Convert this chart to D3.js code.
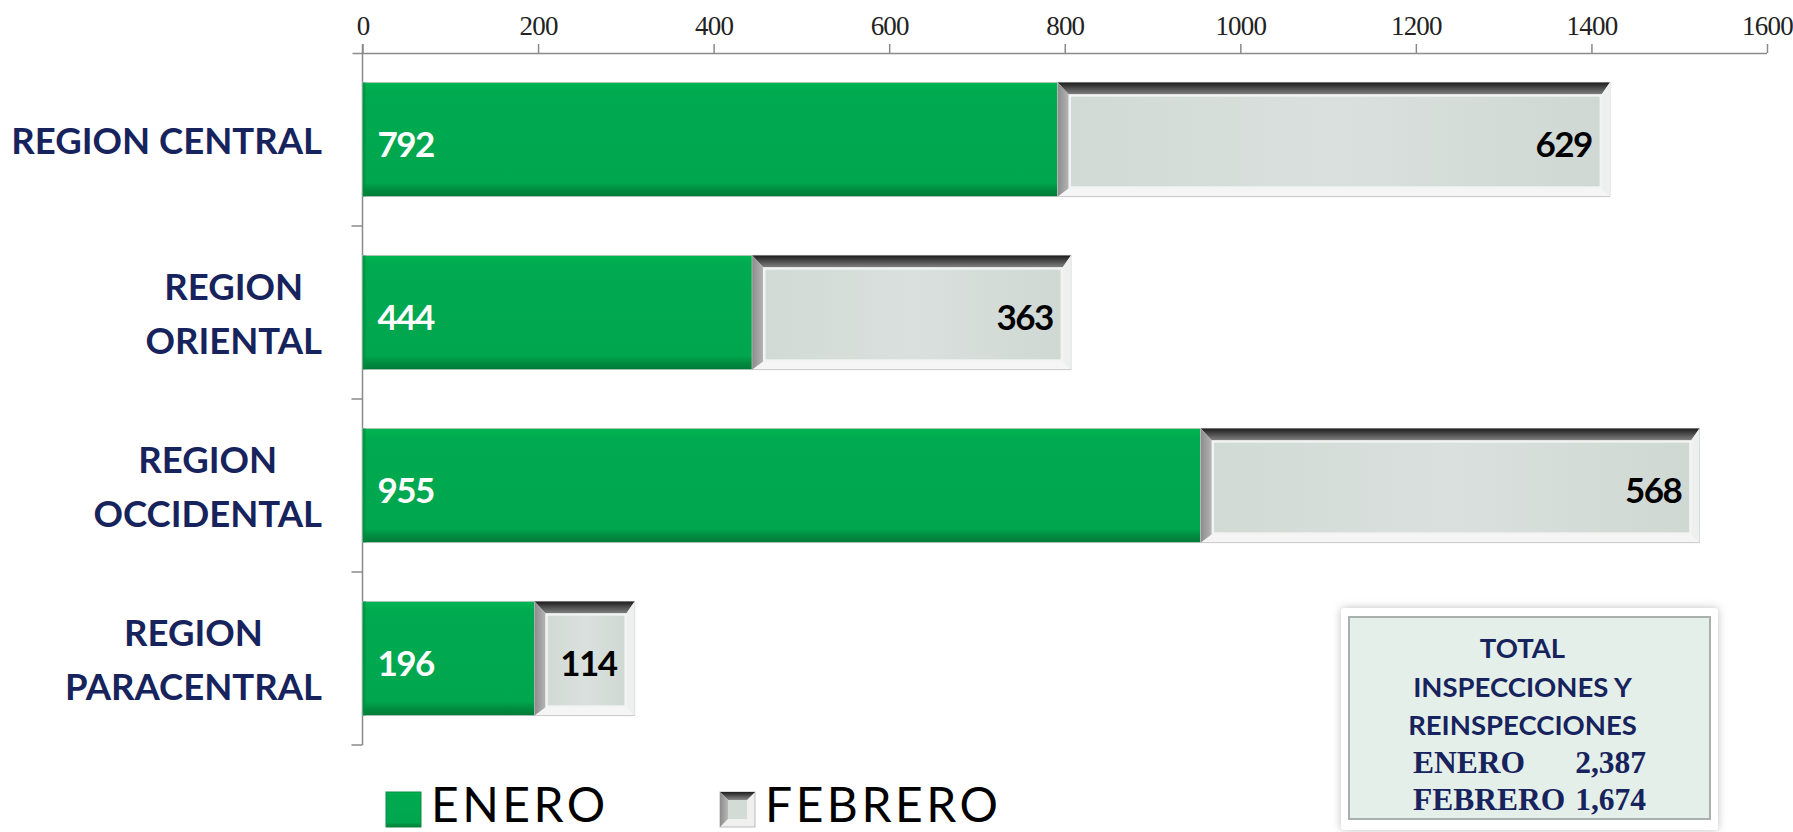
<!DOCTYPE html>
<html>
<head>
<meta charset="utf-8">
<script src="https://cdn.jsdelivr.net/npm/d3@7"></script>
<style>
  html, body { margin: 0; padding: 0; background: #fff; }
  svg { display: block; }
</style>
</head>
<body>
<svg id="chart" width="1793" height="832"></svg>
<script>
// Inspecciones por región – enero / febrero
const regions = ["REGION CENTRAL", "REGION\nORIENTAL", "REGION\nOCCIDENTAL", "REGION\nPARACENTRAL"];
const enero = [792, 444, 955, 196];
const febrero = [629, 363, 568, 114];
const xTicks = [0, 200, 400, 600, 800, 1000, 1200, 1400, 1600];
const seriesNames = ["ENERO", "FEBRERO"];
const totalLines = ["TOTAL", "INSPECCIONES Y", "REINSPECCIONES"];
const totals = [["ENERO", "2,387"], ["FEBRERO", "1,674"]];

const NAVY = "#17235c";
const SANS = "Lato, 'Open Sans', sans-serif";
const SERIF = "'Liberation Serif', 'Times New Roman', serif";
const svg = d3.select("#chart");

const margin = { top: 53, left: 362.5, right: 26, bottom: 87 };
const W = 1793, H = 832;

const x = d3.scaleLinear().domain([0, 1600]).range([margin.left, W - margin.right]);
const y = d3.scaleBand()
  .domain(regions)
  .range([margin.top, H - margin.bottom])
  .paddingInner(0.34)
  .paddingOuter(0.17);

// ---------------------------
// gradients / filters
// ---------------------------
const defs = svg.append("defs");

const gGreen = defs.append("linearGradient").attr("id", "green").attr("x1", 0).attr("y1", 0).attr("x2", 0).attr("y2", 1);
gGreen.append("stop").attr("offset", "0%").attr("stop-color", "#00b652");
gGreen.append("stop").attr("offset", "8%").attr("stop-color", "#00aa4f");
gGreen.append("stop").attr("offset", "88%").attr("stop-color", "#00a64e");
gGreen.append("stop").attr("offset", "94%").attr("stop-color", "#008c40");
gGreen.append("stop").attr("offset", "100%").attr("stop-color", "#007a37");

const gTop = defs.append("linearGradient").attr("id", "bevelTop").attr("x1", 0).attr("y1", 0).attr("x2", 0).attr("y2", 1);
gTop.append("stop").attr("offset", "0%").attr("stop-color", "#1c1c1c");
gTop.append("stop").attr("offset", "100%").attr("stop-color", "#8a8a8a");

const gLeft = defs.append("linearGradient").attr("id", "bevelLeft").attr("x1", 0).attr("y1", 0).attr("x2", 1).attr("y2", 0);
gLeft.append("stop").attr("offset", "0%").attr("stop-color", "#8c8c8c");
gLeft.append("stop").attr("offset", "100%").attr("stop-color", "#b8b8b8");

const gInner = defs.append("linearGradient").attr("id", "greyInner").attr("x1", 0).attr("y1", 0).attr("x2", 1).attr("y2", 0);
gInner.append("stop").attr("offset", "0%").attr("stop-color", "#d2dad6");
gInner.append("stop").attr("offset", "50%").attr("stop-color", "#d9e0dd");
gInner.append("stop").attr("offset", "100%").attr("stop-color", "#d0d8d4");

const shadow = defs.append("filter").attr("id", "shadow").attr("x", "-10%").attr("y", "-10%").attr("width", "120%").attr("height", "120%");
shadow.append("feDropShadow").attr("dx", 0).attr("dy", 0).attr("stdDeviation", 4).attr("flood-color", "#000").attr("flood-opacity", 0.25);

// ---------------------------
// axes
// ---------------------------
const xAxis = svg.append("g")
  .attr("transform", `translate(0,${margin.top})`)
  .call(d3.axisTop(x).tickValues(xTicks).tickSize(9).tickPadding(9).tickFormat(d3.format("d")));
xAxis.select(".domain").attr("stroke", "#8a8a8a").attr("stroke-width", 1.5)
  .attr("d", `M${margin.left - 10},0.5H${x(1600)}`);
xAxis.selectAll(".tick line").attr("stroke", "#8a8a8a").attr("stroke-width", 1.5);
xAxis.selectAll(".tick text")
  .attr("fill", "#222")
  .style("font-family", SERIF)
  .style("font-size", "27px")
  .style("letter-spacing", "-0.8px");

// y axis line with ticks at band boundaries
const yAxis = svg.append("g");
const yTop = margin.top, yBot = H - margin.bottom;
yAxis.append("line")
  .attr("x1", x(0)).attr("x2", x(0))
  .attr("y1", yTop - 9).attr("y2", yBot)
  .attr("stroke", "#8a8a8a").attr("stroke-width", 1.5);
const bounds = regions.map((r) => y(r) - y.step() * y.paddingInner() / 2).concat([yBot]);
yAxis.selectAll("line.yt")
  .data(bounds.slice(1))
  .join("line")
  .attr("class", "yt")
  .attr("x1", x(0) - 11).attr("x2", x(0))
  .attr("y1", (d) => d).attr("y2", (d) => d)
  .attr("stroke", "#8a8a8a").attr("stroke-width", 1.5);

// ---------------------------
// bars
// ---------------------------
const bars = svg.append("g");
const bh = y.bandwidth();

regions.forEach((r, i) => {
  const y0 = y(r);
  const g = bars.append("g");

  // Enero – green
  const gx0 = x(0), gx1 = x(enero[i]);
  g.append("rect")
    .attr("x", gx0).attr("y", y0)
    .attr("width", gx1 - gx0).attr("height", bh)
    .attr("fill", "url(#green)")
    .attr("stroke", "#b5c4bb").attr("stroke-width", 0.8);
  g.append("rect")
    .attr("x", gx0).attr("y", y0)
    .attr("width", 3).attr("height", bh)
    .attr("fill", "#008a3f").attr("opacity", 0.6);

  // Febrero – beveled grey
  const fx0 = x(enero[i]), fx1 = x(enero[i] + febrero[i]);
  const y1 = y0 + bh;
  const bT = 13, bL = 12, bR = 9, bB = 9;
  g.append("rect")
    .attr("x", fx0).attr("y", y0)
    .attr("width", fx1 - fx0).attr("height", bh)
    .attr("fill", "#f4f5f4").attr("stroke", "#c8c8c8").attr("stroke-width", 1);
  g.append("polygon")
    .attr("points", [[fx0, y0], [fx1, y0], [fx1 - bR, y0 + bT], [fx0 + bL, y0 + bT]].join(" "))
    .attr("fill", "url(#bevelTop)");
  g.append("polygon")
    .attr("points", [[fx0, y0], [fx0 + bL, y0 + bT], [fx0 + bL, y1 - bB], [fx0, y1]].join(" "))
    .attr("fill", "url(#bevelLeft)");
  g.append("polygon")
    .attr("points", [[fx1, y0], [fx1, y1], [fx1 - bR, y1 - bB], [fx1 - bR, y0 + bT]].join(" "))
    .attr("fill", "#eef0ef");
  g.append("rect")
    .attr("x", fx0 + bL).attr("y", y0 + bT)
    .attr("width", fx1 - fx0 - bL - bR).attr("height", bh - bT - bB)
    .attr("fill", "url(#greyInner)")
    .attr("stroke", "#f2f4f3").attr("stroke-width", 2.5);

  // value labels
  g.append("text")
    .attr("x", gx0 + 15).attr("y", y0 + bh / 2 + 3)
    .attr("dominant-baseline", "central")
    .attr("fill", "#fff")
    .style("font-family", SANS)
    .style("font-weight", 700)
    .style("font-size", "35px")
    .style("letter-spacing", "-1.5px")
    .text(enero[i]);
  g.append("text")
    .attr("x", fx1 - 18).attr("y", y0 + bh / 2 + 3)
    .attr("text-anchor", "end")
    .attr("dominant-baseline", "central")
    .attr("fill", "#000")
    .style("font-family", SANS)
    .style("font-weight", 700)
    .style("font-size", "35px")
    .style("letter-spacing", "-1.5px")
    .text(febrero[i]);
});

// ---------------------------
// category labels (centered lines, right-aligned block)
// ---------------------------
const labelRight = 322;
const lineGap = 54;
const catG = svg.append("g");
regions.forEach((r) => {
  const lines = r.split("\n");
  const cy = y(r) + bh / 2;
  const t = catG.append("g");
  const texts = lines.map((ln, j) =>
    t.append("text")
      .attr("y", cy + (j - (lines.length - 1) / 2) * lineGap)
      .attr("dominant-baseline", "central")
      .attr("text-anchor", "middle")
      .attr("fill", NAVY)
      .style("font-family", SANS)
      .style("font-weight", 700)
      .style("font-size", "36.5px")
      .text(ln)
  );
  const maxW = d3.max(texts, (s) => s.node().getComputedTextLength());
  texts.forEach((s) => s.attr("x", labelRight - maxW / 2));
});

// ---------------------------
// legend
// ---------------------------
const legend = svg.append("g");
const legendX = [386, 720];
seriesNames.forEach((name, i) => {
  const lx = legendX[i], ly = 792, s = 35;
  if (i === 0) {
    legend.append("rect").attr("x", lx).attr("y", ly).attr("width", s).attr("height", s)
      .attr("fill", "url(#green)").attr("stroke", "#0a8a40").attr("stroke-width", 1);
  } else {
    legend.append("rect").attr("x", lx).attr("y", ly).attr("width", s).attr("height", s)
      .attr("fill", "#f0f0f0").attr("stroke", "#bbb");
    legend.append("polygon")
      .attr("points", [[lx, ly], [lx + s, ly], [lx + s - 8, ly + 8], [lx + 8, ly + 8]].join(" "))
      .attr("fill", "url(#bevelTop)");
    legend.append("polygon")
      .attr("points", [[lx, ly], [lx + 8, ly + 8], [lx + 8, ly + s - 8], [lx, ly + s]].join(" "))
      .attr("fill", "url(#bevelLeft)");
    legend.append("rect").attr("x", lx + 8).attr("y", ly + 8).attr("width", s - 16).attr("height", s - 16)
      .attr("fill", "#d3dbd7");
  }
  legend.append("text")
    .attr("x", lx + s + 10).attr("y", 822)
    .attr("fill", "#000")
    .style("font-family", SANS)
    .style("font-size", "48px")
    .style("letter-spacing", "3.5px")
    .text(name);
});

// ---------------------------
// totals box
// ---------------------------
const box = svg.append("g");
const bx = 1341, by = 608, bw = 377, bhh = 222;
box.append("rect").attr("x", bx).attr("y", by).attr("width", bw).attr("height", bhh)
  .attr("rx", 4).attr("fill", "#fff").attr("filter", "url(#shadow)");
box.append("rect").attr("x", bx + 8).attr("y", by + 9).attr("width", bw - 16).attr("height", bhh - 20)
  .attr("fill", "#e5efea").attr("stroke", "#a9b0ad").attr("stroke-width", 2);

const cx = bx + bw / 2 - 7;
const lineY = [647, 686, 724];
totalLines.forEach((ln, i) => {
  box.append("text")
    .attr("x", cx).attr("y", lineY[i])
    .attr("text-anchor", "middle")
    .attr("dominant-baseline", "central")
    .attr("fill", NAVY)
    .style("font-family", SANS)
    .style("font-weight", 700)
    .style("font-size", "27.5px")
    .text(ln);
});
const totY = [762, 799];
totals.forEach(([m, v], i) => {
  box.append("text").attr("x", 1413).attr("y", totY[i])
    .attr("dominant-baseline", "central").attr("fill", NAVY)
    .style("font-family", SERIF)
    .style("font-weight", 700).style("font-size", "31.5px")
    .text(m);
  box.append("text").attr("x", 1646).attr("y", totY[i])
    .attr("text-anchor", "end")
    .attr("dominant-baseline", "central").attr("fill", NAVY)
    .style("font-family", SERIF)
    .style("font-weight", 700).style("font-size", "31.5px")
    .text(v);
});
</script>
</body>
</html>
